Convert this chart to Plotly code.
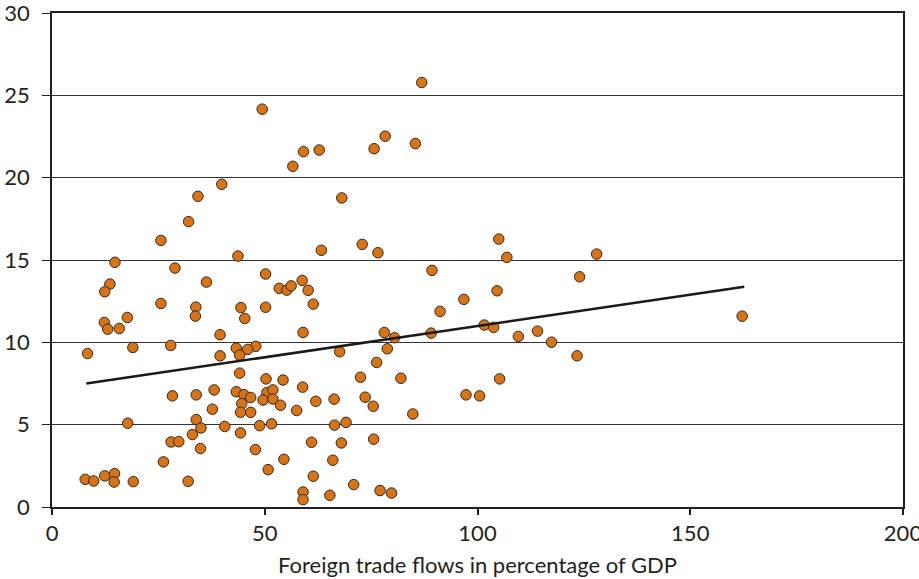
import plotly.graph_objects as go

trade_x = [49.4, 56.6, 39.9, 34.3, 32.1, 25.6, 43.7, 14.8, 28.9, 50.2,
           36.3, 13.6, 12.4, 53.4, 55.2, 56.2, 58.8, 60.2, 61.4, 25.6,
           33.8, 44.4, 50.2, 12.3, 33.7, 45.3, 17.7, 13.1, 15.8, 39.5,
           19.0, 27.9, 8.35, 43.3, 47.9, 46.0, 44.1, 39.5, 44.1, 50.3,
           54.3, 38.1, 28.3, 33.9, 43.3, 45.1, 46.7, 50.5, 51.9, 49.6,
           51.9, 44.6, 53.7, 37.7, 44.3, 46.7, 57.5, 17.8, 33.9, 35.0,
           40.6, 48.8, 51.6, 33.0, 44.3, 28.0, 29.8, 34.9, 47.8, 54.5,
           26.2, 50.8, 7.8, 9.8, 12.4, 14.7, 14.6, 19.1, 32.0, 59.0,
           59.0, 89.3, 106.9, 124.0, 104.6, 96.8, 91.2, 59.0, 78.1, 80.5,
           89.1, 101.6, 103.8, 109.6, 114.1, 117.4, 123.4, 67.6, 78.8, 76.3,
           58.9, 72.5, 82.0, 105.2, 62.0, 66.3, 73.6, 75.5, 97.3, 100.5,
           84.8, 66.4, 69.1, 61.0, 68.0, 75.6, 66.0, 61.4, 70.9, 65.3,
           77.1, 79.8, 86.9, 59.1, 62.8, 75.7, 78.3, 85.4, 68.1, 63.3,
           72.9, 76.6, 105.0, 128.0, 162.2]
growth_y = [24.16, 20.69, 19.6, 18.87, 17.33, 16.19, 15.24, 14.86, 14.51, 14.15,
            13.66, 13.54, 13.07, 13.28, 13.17, 13.43, 13.76, 13.16, 12.32, 12.36,
            12.14, 12.11, 12.13, 11.21, 11.59, 11.45, 11.51, 10.80, 10.84, 10.46,
            9.69, 9.81, 9.32, 9.65, 9.76, 9.57, 9.22, 9.18, 8.13, 7.78,
            7.71, 7.11, 6.75, 6.81, 7.0, 6.82, 6.65, 6.95, 7.11, 6.50,
            6.56, 6.28, 6.18, 5.94, 5.75, 5.75, 5.86, 5.09, 5.31, 4.80,
            4.89, 4.94, 5.05, 4.40, 4.50, 3.95, 3.97, 3.55, 3.49, 2.90,
            2.74, 2.27, 1.68, 1.58, 1.89, 2.03, 1.52, 1.54, 1.56, 0.91,
            0.45, 14.37, 15.16, 13.98, 13.13, 12.61, 11.88, 10.60, 10.60, 10.28,
            10.56, 11.05, 10.91, 10.36, 10.68, 10.01, 9.18, 9.43, 9.61, 8.78,
            7.28, 7.88, 7.82, 7.78, 6.42, 6.55, 6.67, 6.12, 6.81, 6.75,
            5.65, 4.97, 5.14, 3.93, 3.89, 4.12, 2.84, 1.87, 1.36, 0.71,
            1.00, 0.85, 25.78, 21.58, 21.68, 21.76, 22.52, 22.07, 18.77, 15.59,
            15.95, 15.44, 16.27, 15.36, 11.59]

trend_x = [8.06, 162.7]
trend_y = [7.50, 13.37]

x_ticks = [0, 50, 100, 150, 200]
y_ticks = [0, 5, 10, 15, 20, 25, 30]

ink = "#231f20"

fig = go.Figure()
fig.add_trace(go.Scatter(
    x=trade_x, y=growth_y, mode="markers",
    marker=dict(size=10.5, color="#d4751b", line=dict(color="#3b2614", width=1)),
    showlegend=False, cliponaxis=False,
))
fig.add_trace(go.Scatter(
    x=trend_x, y=trend_y, mode="lines",
    line=dict(color="#1a1a1a", width=2.5),
    showlegend=False,
))

fig.update_layout(
    width=919, height=579,
    margin=dict(l=52, r=16, t=13, b=72, autoexpand=False),
    paper_bgcolor="white", plot_bgcolor="white",
    font=dict(family="Lato", size=22, color=ink),
    showlegend=False,
)
fig.update_xaxes(
    range=[0, 200], tickvals=x_ticks, ticktext=[str(v) for v in x_ticks],
    ticks="outside", ticklen=6, tickwidth=1.5, tickcolor=ink,
    showline=True, linecolor=ink, linewidth=2, mirror=True,
    showgrid=False, zeroline=False, automargin=False,
    ticklabeloverflow="allow",
    tickfont=dict(size=22, color=ink),
    title=dict(text="Foreign trade flows in percentage of GDP",
               font=dict(size=22, color=ink), standoff=12),
)
fig.update_yaxes(
    range=[0, 30], tickvals=y_ticks, ticktext=[str(v) for v in y_ticks],
    ticks="outside", ticklen=8, tickwidth=1.2, tickcolor=ink,
    showline=True, linecolor=ink, linewidth=1.5, mirror=True,
    showgrid=True, gridcolor="#333333", gridwidth=1, zeroline=False,
    automargin=False, ticklabeloverflow="allow", ticklabelstandoff=8,
    tickfont=dict(size=22, color=ink),
)

fig.write_html("out.html", config={"displayModeBar": False},
               post_script="document.body.style.margin='0';")
